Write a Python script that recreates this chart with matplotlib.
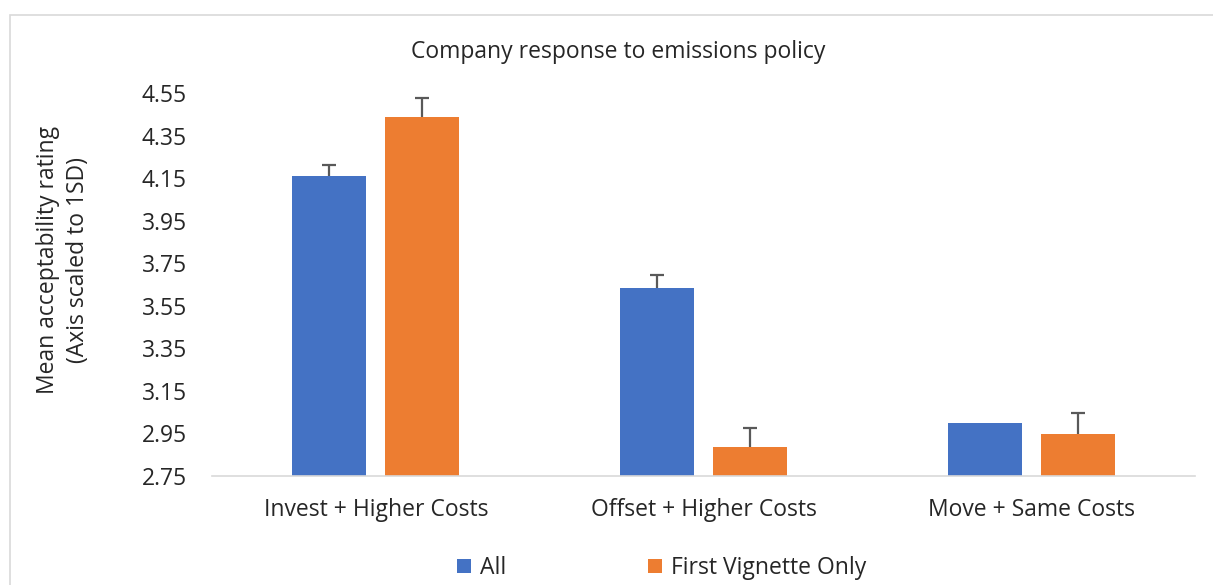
import numpy as np
import matplotlib.pyplot as plt
from matplotlib.patches import Rectangle

# data to plot
categories = ['Invest + Higher Costs', 'Offset + Higher Costs', 'Move + Same Costs']
all_means = [4.158, 3.635, 2.998]
all_err = [0.055, 0.058, 0.0]
first_means = [4.439, 2.888, 2.949]
first_err = [0.088, 0.089, 0.099]
yticks = [2.75, 2.95, 3.15, 3.35, 3.55, 3.75, 3.95, 4.15, 4.35, 4.55]

plt.rcParams['font.family'] = ['Open Sans', 'DejaVu Sans']
fs = 16.5
txt = '#262626'

fig = plt.figure(figsize=(12.13, 5.85), dpi=100)
ax = fig.add_axes([212 / 1213, 0.1863, (1195 - 212) / 1213, 0.6547])

index = np.arange(len(categories))
bar_width = 0.226
offset = 0.142

ax.bar(index - offset, all_means, bar_width, color='#4472C4', label='All', zorder=2)
ax.bar(index + offset, first_means, bar_width, color='#ED7D31',
       label='First Vignette Only', zorder=2)


def upper_err(x, means, errs):
    # plus-only error bars, skip the ones that are zero
    x = np.asarray(x)
    means = np.asarray(means)
    errs = np.asarray(errs)
    keep = errs > 0
    _, caps, _ = ax.errorbar(x[keep], means[keep], yerr=[np.zeros(keep.sum()), errs[keep]],
                             fmt='none', ecolor='#595959', elinewidth=1.6,
                             capsize=5, capthick=1.6, zorder=3)
    caps[0].set_visible(False)


upper_err(index - offset, all_means, all_err)
upper_err(index + offset, first_means, first_err)

ax.set_xlim(-0.5, 2.5)
ax.set_ylim(2.75, 4.55)
ax.set_yticks(yticks)
ax.set_yticklabels(['%.2f' % t for t in yticks])
ax.set_xticks(index)
ax.set_xticklabels(categories)
ax.tick_params(axis='both', length=0, labelsize=fs, colors=txt)
ax.tick_params(axis='x', pad=16)
ax.tick_params(axis='y', pad=18)

for s in ['top', 'right', 'left']:
    ax.spines[s].set_visible(False)
ax.spines['bottom'].set_color('#D9D9D9')
ax.spines['bottom'].set_linewidth(1.2)

fig.text(63 / 1213, 1 - 260 / 585, 'Mean acceptability rating\n(Axis scaled to 1SD)',
         rotation=90, ha='center', va='center', fontsize=fs, color=txt,
         linespacing=1.3, multialignment='center')
fig.text(0.510, 0.911, 'Company response to emissions policy', ha='center', va='center',
         fontsize=fs, color=txt)

fig.legend(loc='center', bbox_to_anchor=(0.5454, 0.029), ncol=2, frameon=False,
           fontsize=fs, handlelength=0.6, handleheight=0.6, columnspacing=6.2,
           handletextpad=0.4, labelcolor=txt)

fig.patches.append(Rectangle((10 / 1213, -0.1), 1.2, 1 - 15 / 585 + 0.1,
                             transform=fig.transFigure, fill=False,
                             edgecolor='#D9D9D9', linewidth=1.2))

fig.savefig('out.png', dpi=100)
